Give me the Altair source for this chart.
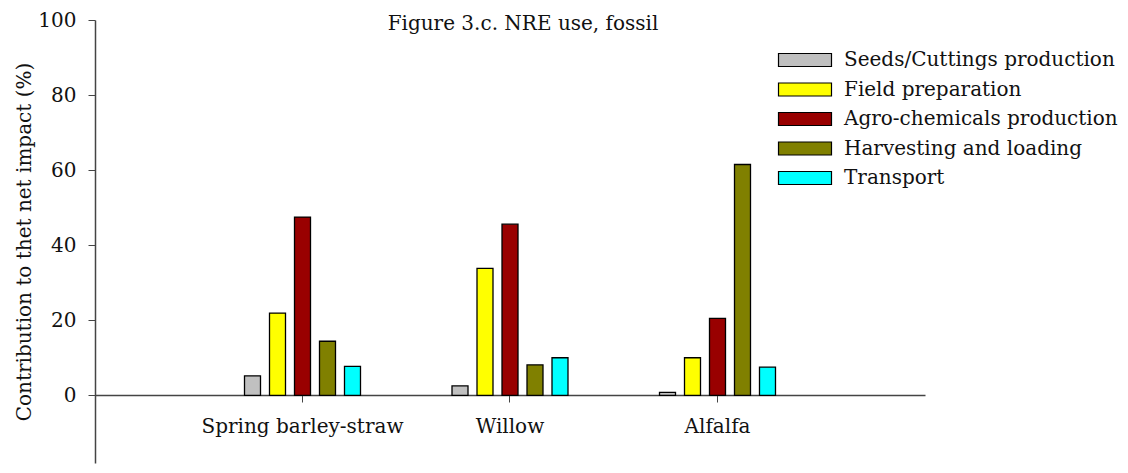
import altair as alt
import pandas as pd

crops = ["Spring barley-straw", "Willow", "Alfalfa"]
stages = ["Seeds/Cuttings production", "Field preparation",
          "Agro-chemicals production", "Harvesting and loading", "Transport"]
seeds = [5.2, 2.5, 0.8]
field = [21.9, 33.8, 10.0]
agro = [47.5, 45.6, 20.5]
harvest = [14.4, 8.1, 61.5]
transport = [7.7, 10.0, 7.5]
colors = ["#c0c0c0", "#ffff00", "#990000", "#808000", "#00ffff"]
y_ticks = [0, 20, 40, 60, 80, 100]

series = [seeds, field, agro, harvest, transport]
rows = []
for stage, vals in zip(stages, series):
    for crop, v in zip(crops, vals):
        rows.append({"crop": crop, "stage": stage, "value": v})
df = pd.DataFrame(rows)

FONT = "DejaVu Serif"

chart = alt.Chart(df).mark_bar(stroke="black", strokeWidth=1.3).encode(
    x=alt.X("crop:N", sort=crops,
            scale=alt.Scale(paddingInner=0.441, paddingOuter=0.7205),
            axis=alt.Axis(title=None, labelAngle=0, offset=-68, tickSize=7,
                          labelPadding=14, labelFontSize=20, labelColor="#111",
                          labelLimit=400,
                          domainColor="#444", domainWidth=1.5, tickColor="#444",
                          grid=False)),
    xOffset=alt.XOffset("stage:N", sort=stages,
                        scale=alt.Scale(paddingInner=0.36, paddingOuter=0)),
    y=alt.Y("value:Q",
            scale=alt.Scale(domain=[-18.04, 100], nice=False, zero=False),
            axis=alt.Axis(title="Contribution to thet net impact (%)", values=y_ticks,
                          tickSize=7, labelPadding=12, labelFontSize=20,
                          labelColor="#111", titleFontSize=20, titleFontWeight="normal",
                          titleColor="#111", titlePadding=3, domainColor="#444",
                          domainWidth=1.5, tickColor="#444", grid=False)),
    fill=alt.Fill("stage:N", sort=stages,
                  scale=alt.Scale(domain=stages, range=colors),
                  legend=alt.Legend(title=None, orient="none", legendX=696, legendY=26,
                                    symbolType="M-2,-0.49H2V0.49H-2Z", symbolSize=702,
                                    symbolStrokeColor="black", symbolStrokeWidth=1.2,
                                    symbolOpacity=1, labelOffset=25, labelFontSize=20,
                                    labelColor="#111", rowPadding=5.5, padding=0,
                                    labelLimit=400)),
).properties(
    width=830, height=443,
    autosize="none",
    padding={"left": 87, "top": 12, "right": 195, "bottom": 2},
    title=alt.TitleParams("Figure 3.c. NRE use, fossil", fontSize=20,
                          fontWeight="normal", color="#111", offset=-24, dx=13,
                          anchor="middle"),
).configure(font=FONT).configure_view(stroke="transparent")

chart.save("out.html", embed_options={"renderer": "svg", "actions": False})
